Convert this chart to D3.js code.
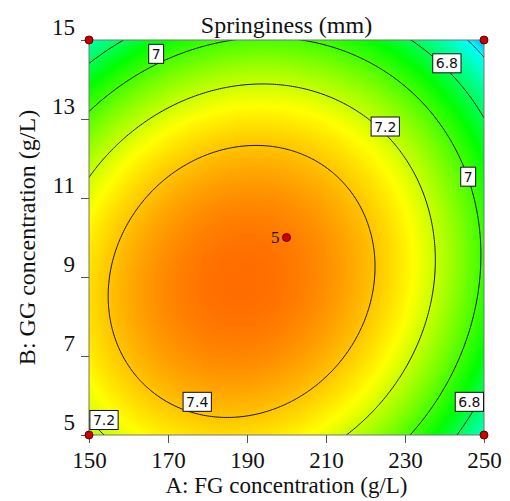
<!DOCTYPE html>
<html>
<head>
<meta charset="utf-8">
<script src="https://cdn.jsdelivr.net/npm/d3@7"></script>
<style>
  body { margin: 0; background: #fff; }
  svg text { font-family: "Liberation Serif", "Times New Roman", serif; fill: #111; }
  .clabel text { font-family: "DejaVu Sans", Verdana, sans-serif; font-size: 14px; }
</style>
</head>
<body>
<svg id="chart" width="510" height="501"></svg>
<script>
// factor ranges and ticks
const aRange = [150, 250];
const bRange = [5, 15];
const aTicks = [150, 170, 190, 210, 230, 250];
const bTicks = [5, 7, 9, 11, 13, 15];

// quadratic model in coded factors: Intercept, A, B, AB, A^2, B^2
const coefTerms = ['Intercept', 'A', 'B', 'AB', 'A2', 'B2'];
const coefValues = [7.545, -0.163, -0.152, 0.085, -0.400, -0.385];

const contourLevels = [6.6, 6.8, 7.0, 7.2, 7.4];

// contour labels (level, position in factor units)
const labelText = ['7', '6.8', '7.2', '7', '7.4', '7.2', '6.8'];
const labelA = [167, 240.6, 225, 246, 177.4, 153.8, 246.3];
const labelB = [14.65, 14.41, 12.81, 11.54, 5.84, 5.38, 5.84];

// design points
const designA = [150, 150, 250, 250, 200];
const designB = [5, 15, 5, 15, 10];
const designReps = [1, 1, 1, 1, 5];

const svg = d3.select('#chart');

const x = d3.scaleLinear().domain(aRange).range([89, 484]);
const y = d3.scaleLinear().domain(bRange).range([435, 40]);

function springiness(A, B) {
  const a = (A - 200) / 50, b = (B - 10) / 5;
  const [c0, cA, cB, cAB, cAA, cBB] = coefValues;
  return c0 + cA * a + cB * b + cAB * a * b + cAA * a * a + cBB * b * b;
}

const color = d3.scaleLinear()
  .domain([6.4, 6.6, 6.9, 7.28, 7.8])
  .range(['#0000ff', '#00ffff', '#00ff00', '#ffff00', '#ff0000'])
  .clamp(true);

// colour fill
const px0 = Math.round(x(aRange[0])), px1 = Math.round(x(aRange[1]));
const py0 = Math.round(y(bRange[1])), py1 = Math.round(y(bRange[0]));
const w = px1 - px0, h = py1 - py0;
const canvas = document.createElement('canvas');
canvas.width = w;
canvas.height = h;
const ctx = canvas.getContext('2d');
const img = ctx.createImageData(w, h);
for (let j = 0; j < h; j++) {
  for (let i = 0; i < w; i++) {
    const c = d3.rgb(color(springiness(x.invert(px0 + i + 0.5), y.invert(py0 + j + 0.5))));
    const k = (j * w + i) * 4;
    img.data[k] = c.r;
    img.data[k + 1] = c.g;
    img.data[k + 2] = c.b;
    img.data[k + 3] = 255;
  }
}
ctx.putImageData(img, 0, 0);

svg.append('defs').append('clipPath')
   .attr('id', 'plotclip')
   .append('rect')
   .attr('x', px0).attr('y', py0)
   .attr('width', w).attr('height', h);

svg.append('image')
   .attr('x', px0).attr('y', py0)
   .attr('width', w).attr('height', h)
   .attr('preserveAspectRatio', 'none')
   .attr('href', canvas.toDataURL());

// contour lines (grid a bit larger than the plot, then clipped)
const gA0 = 144, gB0 = 4.4, dA = 0.5, dB = 0.05, nx = 225, ny = 225;
const grid = new Array(nx * ny);
for (let j = 0; j < ny; j++)
  for (let i = 0; i < nx; i++)
    grid[i + j * nx] = springiness(gA0 + i * dA, gB0 + j * dB);

const contours = d3.contours().size([nx, ny]).thresholds(contourLevels)(grid);
const proj = d3.geoTransform({
  point(px, py) {
    this.stream.point(x(gA0 + (px - 0.5) * dA), y(gB0 + (py - 0.5) * dB));
  }
});
const path = d3.geoPath(proj);

svg.append('g')
   .attr('clip-path', 'url(#plotclip)')
   .selectAll('path')
   .data(contours)
   .enter()
   .append('path')
   .attr('d', path)
   .attr('fill', 'none')
   .attr('stroke', '#151515')
   .attr('stroke-width', 1);

// frame
svg.append('rect')
   .attr('x', px0).attr('y', py0)
   .attr('width', w).attr('height', h)
   .attr('fill', 'none')
   .attr('stroke', '#777')
   .attr('stroke-width', 1);

// axes
const yAxis = svg.append('g')
   .attr('transform', `translate(${px0}, 0)`)
   .call(d3.axisLeft(y).tickValues(bTicks).tickSize(8).tickPadding(6).tickFormat(d3.format('d')));
const xAxis = svg.append('g')
   .attr('transform', `translate(0, ${py1})`)
   .call(d3.axisBottom(x).tickValues(aTicks).tickSize(8).tickFormat(d3.format('d')));

[xAxis, yAxis].forEach(g => {
  g.select('.domain').remove();
  g.selectAll('line').attr('stroke', '#555');
  g.selectAll('text')
   .style('font-family', '"Liberation Serif", serif')
   .style('font-size', '23px')
   .attr('fill', '#111');
});
yAxis.selectAll('text').attr('dy', -6);
xAxis.selectAll('text').attr('y', 33).attr('dy', 0);

// contour labels
const labels = svg.append('g')
   .attr('class', 'clabel')
   .selectAll('g')
   .data(labelText.map((t, i) => ({ t, A: labelA[i], B: labelB[i] })))
   .enter()
   .append('g')
   .attr('transform', d => `translate(${x(d.A)}, ${y(d.B)})`);

labels.append('rect').attr('fill', '#fff').attr('stroke', '#111').attr('stroke-width', 1);
labels.append('text')
   .attr('text-anchor', 'middle')
   .attr('dy', '0.36em')
   .text(d => d.t);
labels.each(function () {
  const tw = d3.select(this).select('text').node().getComputedTextLength();
  d3.select(this).select('rect')
    .attr('x', -tw / 2 - 3).attr('y', -9.5)
    .attr('width', tw + 6).attr('height', 19);
});

// design points
const pts = designA.map((A, i) => ({ A, B: designB[i], n: designReps[i] }));
svg.append('g')
   .selectAll('circle')
   .data(pts)
   .enter()
   .append('circle')
   .attr('cx', d => x(d.A))
   .attr('cy', d => y(d.B))
   .attr('r', 4)
   .attr('fill', '#cc0000')
   .attr('stroke', '#6a0000')
   .attr('stroke-width', 1);

svg.append('g')
   .selectAll('text')
   .data(pts.filter(d => d.n > 1))
   .enter()
   .append('text')
   .attr('x', d => x(d.A) - 7)
   .attr('y', d => y(d.B))
   .attr('dy', '0.33em')
   .attr('text-anchor', 'end')
   .style('font-size', '17px')
   .text(d => d.n);

// titles
svg.append('text')
   .attr('x', (px0 + px1) / 2)
   .attr('y', 33)
   .attr('text-anchor', 'middle')
   .style('font-size', '24px')
   .text('Springiness (mm)');

svg.append('text')
   .attr('x', (px0 + px1) / 2)
   .attr('y', 493)
   .attr('text-anchor', 'middle')
   .style('font-size', '23px')
   .text('A: FG concentration (g/L)');

svg.append('text')
   .attr('transform', `translate(35, ${(py0 + py1) / 2}) rotate(-90)`)
   .attr('text-anchor', 'middle')
   .style('font-size', '24px')
   .text('B: GG concentration (g/L)');
</script>
</body>
</html>
